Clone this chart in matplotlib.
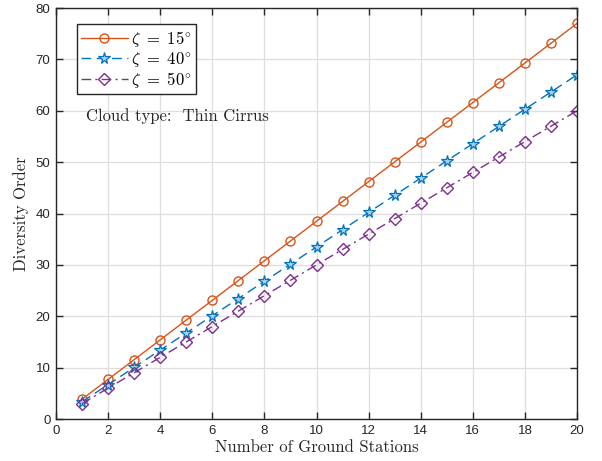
import matplotlib
matplotlib.use("Agg")
import matplotlib.pyplot as plt
import numpy as np

stations = list(range(1, 21))
zeta15 = [3.85, 7.7, 11.55, 15.4, 19.25, 23.1, 26.95, 30.8, 34.65, 38.5,
          42.35, 46.2, 50.05, 53.9, 57.75, 61.6, 65.45, 69.3, 73.15, 77.0]
zeta40 = [3.35, 6.7, 10.05, 13.4, 16.75, 20.1, 23.45, 26.8, 30.15, 33.5,
          36.85, 40.2, 43.55, 46.9, 50.25, 53.6, 56.95, 60.3, 63.65, 67.0]
zeta50 = [3.0, 6.0, 9.0, 12.0, 15.0, 18.0, 21.0, 24.0, 27.0, 30.0,
          33.0, 36.0, 39.0, 42.0, 45.0, 48.0, 51.0, 54.0, 57.0, 60.0]
labels = [r'$\zeta\ =\ 15^{\circ}$', r'$\zeta\ =\ 40^{\circ}$', r'$\zeta\ =\ 50^{\circ}$']
xticks = list(range(0, 21, 2))
yticks = list(range(0, 81, 10))

plt.rcParams['mathtext.fontset'] = 'cm'
plt.rcParams['font.family'] = ['Liberation Sans', 'DejaVu Sans']

fig = plt.figure(figsize=(6.02, 4.61), dpi=100)
ax = fig.add_axes([0.093, 0.0911, 0.8655, 0.8915])

ax.plot(stations, zeta15, '-', color='#D95319', marker='o', markersize=6.5,
        markerfacecolor='none', markeredgewidth=1.0, linewidth=1.0, label=labels[0])
ax.plot(stations, zeta40, linestyle=(0, (7, 4)), color='#0072BD', marker='*', markersize=8.5,
        markerfacecolor='#a9d0ee', markeredgewidth=0.9, linewidth=1.0, label=labels[1])
ax.plot(stations, zeta50, linestyle=(0, (7, 3, 1.5, 3)), color='#7E2F8E', marker='D', markersize=6,
        markerfacecolor='none', markeredgewidth=1.0, linewidth=1.0, label=labels[2])

ax.set_xlim(0, 20)
ax.set_ylim(0, 80)
ax.set_xticks(xticks)
ax.set_yticks(yticks)
ax.tick_params(direction='in', top=True, right=True, length=5, width=1.0,
               labelsize=9.5, colors='#262626', pad=4)
for s in ax.spines.values():
    s.set_color('#262626')
    s.set_linewidth(1.0)
ax.grid(True, color='#dedede', linewidth=0.9)
ax.set_axisbelow(True)

ax.set_xlabel('Number of Ground Stations', family='cmr10', fontsize=12, color='#262626', labelpad=2)
ax.set_ylabel('Diversity Order', family='cmr10', fontsize=12, color='#262626', labelpad=5)

leg = ax.legend(loc='upper left', bbox_to_anchor=(0.04, 0.96), fontsize=12,
                fancybox=False, framealpha=1, edgecolor='#262626', handlelength=2.8,
                borderpad=0.25, labelspacing=0.08, handletextpad=0.2, borderaxespad=0)
leg.get_frame().set_linewidth(1.0)

ax.text(0.058, 0.737, 'Cloud type:  Thin Cirrus', transform=ax.transAxes,
        family='cmr10', fontsize=12, color='#262626', va='center', ha='left')

fig.savefig('out.png', dpi=100)
